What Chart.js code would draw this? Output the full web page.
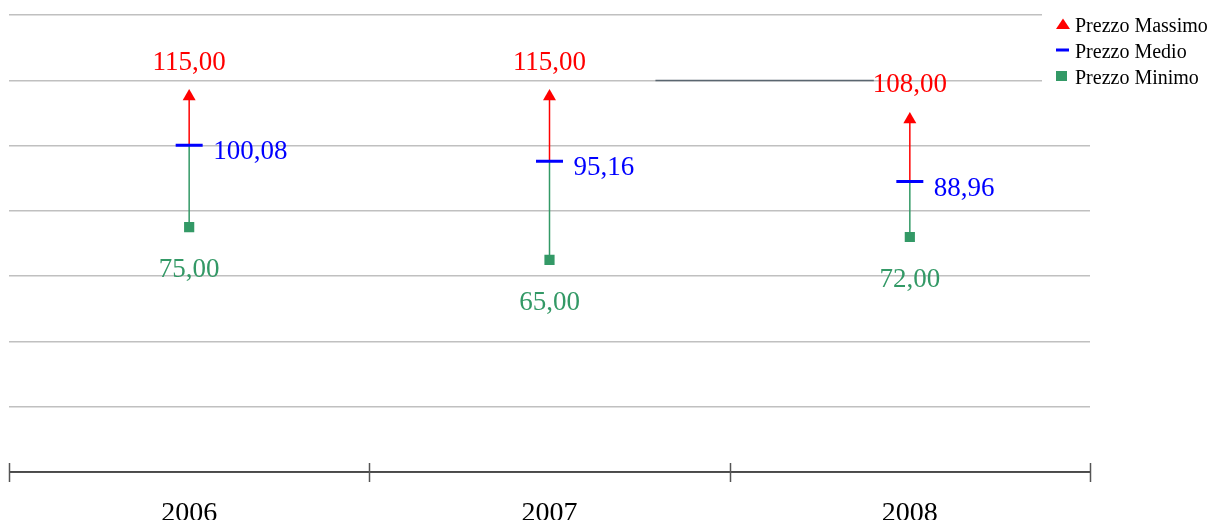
<!DOCTYPE html>
<html>
<head>
<meta charset="utf-8">
<script src="https://cdn.jsdelivr.net/npm/chart.js@4"></script>
<style>
  html, body { margin: 0; padding: 0; background: #fff; }
  #wrap { width: 1221px; height: 520px; }
</style>
</head>
<body>
<div id="wrap"><canvas id="chart" width="1221" height="520"></canvas></div>
<script>
// dati del grafico
var anni = ['2006', '2007', '2008'];
var prezzoMassimo = [115, 115, 108];
var prezzoMedio = [100.08, 95.16, 88.96];
var prezzoMinimo = [75, 65, 72];
var tickY = [0, 20, 40, 60, 80, 100, 120, 140];

var ROSSO = '#ff0000';
var BLU = '#0000ff';
var VERDE = '#339966';
var FONT = "'Liberation Serif', 'Times New Roman', serif";

function fmt(v){
  return v.toFixed(2).replace('.', ',');
}

// linee verticali tra massimo, medio e minimo
var connettori = {
  id: 'connettori',
  beforeDatasetsDraw: function(chart){
    var ctx = chart.ctx;
    var x = chart.scales.x, y = chart.scales.y;
    ctx.save();
    ctx.lineWidth = 1.5;
    for (var i = 0; i < anni.length; i++) {
      var px = x.getPixelForValue(i);
      ctx.strokeStyle = ROSSO;
      ctx.beginPath();
      ctx.moveTo(px, y.getPixelForValue(prezzoMassimo[i]));
      ctx.lineTo(px, y.getPixelForValue(prezzoMedio[i]));
      ctx.stroke();
      ctx.strokeStyle = VERDE;
      ctx.beginPath();
      ctx.moveTo(px, y.getPixelForValue(prezzoMedio[i]));
      ctx.lineTo(px, y.getPixelForValue(prezzoMinimo[i]));
      ctx.stroke();
    }
    ctx.restore();
  }
};

// asse x con le tacche sui confini delle categorie
var asseX = {
  id: 'asseX',
  afterDatasetsDraw: function(chart){
    var ctx = chart.ctx;
    var a = chart.chartArea;
    var x = chart.scales.x;
    ctx.save();
    ctx.strokeStyle = '#222';
    ctx.lineWidth = 1.5;
    ctx.beginPath();
    ctx.moveTo(a.left, a.bottom);
    ctx.lineTo(a.right, a.bottom);
    ctx.stroke();
    ctx.strokeStyle = '#555';
    for (var i = 0; i <= anni.length; i++) {
      var px = Math.round(x.getPixelForValue(i - 0.5)) + 0.5;
      ctx.beginPath();
      ctx.moveTo(px, a.bottom - 9);
      ctx.lineTo(px, a.bottom + 10);
      ctx.stroke();
    }
    // linea scura sulla griglia a 120
    var yy = Math.round(chart.scales.y.getPixelForValue(120)) + 0.5;
    ctx.strokeStyle = '#5a6670';
    ctx.lineWidth = 1.5;
    ctx.beginPath();
    ctx.moveTo(a.left + a.width * 0.598, yy);
    ctx.lineTo(a.left + a.width * 0.80, yy);
    ctx.stroke();
    ctx.restore();
  }
};

// etichette dei valori
var etichette = {
  id: 'etichette',
  afterDatasetsDraw: function(chart){
    var ctx = chart.ctx;
    var x = chart.scales.x, y = chart.scales.y;
    ctx.save();
    ctx.font = '27px ' + FONT;
    ctx.textBaseline = 'alphabetic';
    for (var i = 0; i < anni.length; i++) {
      var px = x.getPixelForValue(i);
      ctx.fillStyle = ROSSO;
      ctx.textAlign = 'center';
      ctx.fillText(fmt(prezzoMassimo[i]), px, y.getPixelForValue(prezzoMassimo[i]) - 27);
      ctx.fillStyle = BLU;
      ctx.textAlign = 'left';
      ctx.fillText(fmt(prezzoMedio[i]), px + 24, y.getPixelForValue(prezzoMedio[i]) + 14);
      ctx.fillStyle = VERDE;
      ctx.textAlign = 'center';
      ctx.fillText(fmt(prezzoMinimo[i]), px, y.getPixelForValue(prezzoMinimo[i]) + 50);
    }
    ctx.restore();
  }
};

// legenda a destra
var legenda = {
  id: 'legenda',
  afterDraw: function(chart){
    var ctx = chart.ctx;
    var voci = [
      { testo: 'Prezzo Massimo', colore: ROSSO, tipo: 'tri' },
      { testo: 'Prezzo Medio', colore: BLU, tipo: 'lin' },
      { testo: 'Prezzo Minimo', colore: VERDE, tipo: 'sq' }
    ];
    ctx.save();
    ctx.fillStyle = '#fff';
    ctx.fillRect(1042, 0, 1221 - 1042, 95);
    ctx.font = '20px ' + FONT;
    ctx.textBaseline = 'alphabetic';
    ctx.textAlign = 'left';
    for (var i = 0; i < voci.length; i++) {
      var cy = 24 + i * 26;
      var v = voci[i];
      ctx.fillStyle = v.colore;
      if (v.tipo === 'tri') {
        ctx.beginPath();
        ctx.moveTo(1063, cy - 5.5);
        ctx.lineTo(1070, cy + 5);
        ctx.lineTo(1056, cy + 5);
        ctx.closePath();
        ctx.fill();
      } else if (v.tipo === 'lin') {
        ctx.fillRect(1056, cy - 1.5, 13, 3);
      } else {
        ctx.fillRect(1056, cy - 5, 11, 10);
      }
      ctx.fillStyle = '#000';
      ctx.fillText(v.testo, 1075, cy + 8);
    }
    ctx.restore();
  }
};

new Chart(document.getElementById('chart'), {
  type: 'line',
  data: {
    labels: anni,
    datasets: [
      {
        label: 'Prezzo Massimo',
        data: prezzoMassimo,
        showLine: false,
        pointStyle: 'triangle',
        pointRadius: 7.5,
        backgroundColor: ROSSO,
        borderColor: ROSSO,
        pointBorderWidth: 0
      },
      {
        label: 'Prezzo Medio',
        data: prezzoMedio,
        showLine: false,
        pointStyle: 'line',
        pointRadius: 13.5,
        backgroundColor: BLU,
        borderColor: BLU,
        pointBorderWidth: 3
      },
      {
        label: 'Prezzo Minimo',
        data: prezzoMinimo,
        showLine: false,
        pointStyle: 'rect',
        pointRadius: 7.2,
        backgroundColor: VERDE,
        borderColor: VERDE,
        pointBorderWidth: 0
      }
    ]
  },
  options: {
    responsive: false,
    animation: false,
    layout: { autoPadding: false, padding: { top: 15, right: 131, left: 0, bottom: 0 } },
    plugins: {
      legend: { display: false },
      tooltip: { enabled: false }
    },
    scales: {
      x: {
        offset: true,
        grid: { display: false },
        border: { display: false },
        ticks: {
          color: '#000',
          padding: 17,
          font: { family: FONT, size: 28 }
        },
        afterFit: function(scale){ scale.height = 48; }
      },
      y: {
        min: 0,
        max: 140,
        afterBuildTicks: function(scale){
          scale.ticks = tickY.map(function(v){ return { value: v }; });
        },
        grid: { color: '#c0c0c0', lineWidth: 1.5, drawTicks: false },
        border: { display: false },
        ticks: { display: false },
        afterFit: function(scale){ scale.width = 9; }
      }
    }
  },
  plugins: [connettori, asseX, etichette, legenda]
});
</script>
</body>
</html>
